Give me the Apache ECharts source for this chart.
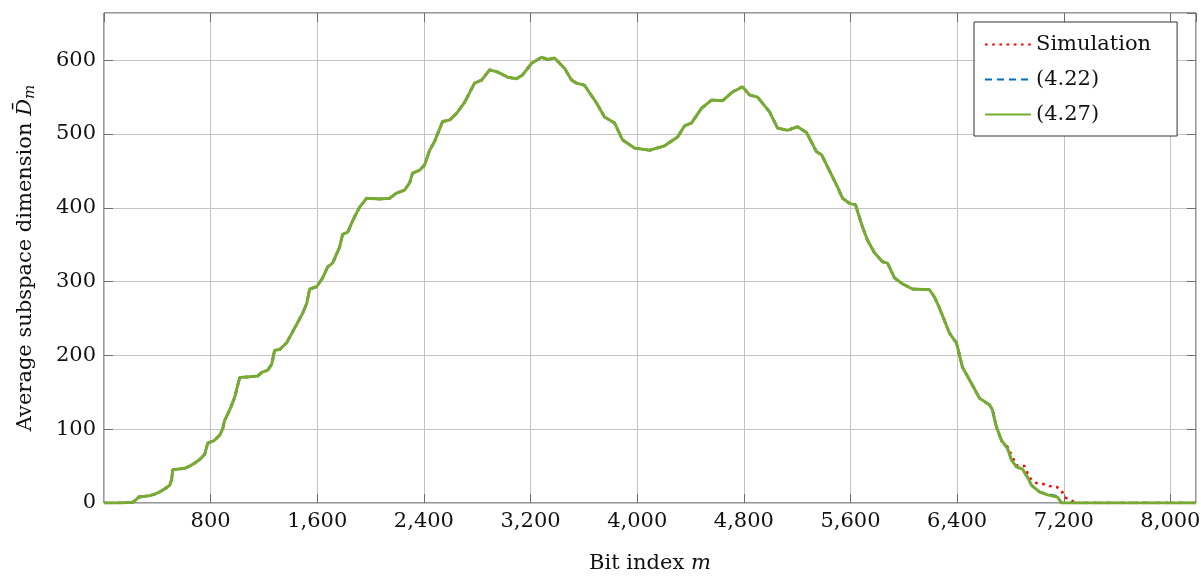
<!DOCTYPE html>
<html>
<head>
<meta charset="utf-8">
<script src="https://cdn.jsdelivr.net/npm/echarts@6/dist/echarts.min.js"></script>
<style>
  html, body { margin: 0; padding: 0; background: #fff; }
  #chart { width: 1201px; height: 577px; }
</style>
</head>
<body>
<div id="chart"></div>
<script>
// Bit index m for the analytical curves
const bitIndex = [0, 118, 215, 245, 260, 343, 380, 418, 455, 493, 508, 515, 605, 643, 680, 718, 755, 778, 830, 868,
  890, 905, 943, 980, 1018, 1093, 1153, 1183, 1228, 1258, 1280, 1318, 1370, 1430, 1490, 1520, 1543, 1595, 1640, 1678,
  1715, 1768, 1790, 1828, 1880, 1918, 1970, 2068, 2143, 2195, 2255, 2293, 2315, 2368, 2405, 2443, 2480, 2518, 2540, 2593,
  2645, 2705, 2780, 2833, 2893, 2953, 3028, 3095, 3140, 3208, 3283, 3328, 3380, 3455, 3508, 3545, 3605, 3695, 3755, 3830,
  3890, 3980, 4093, 4205, 4303, 4355, 4408, 4483, 4558, 4640, 4715, 4790, 4843, 4903, 4993, 5053, 5128, 5203, 5270, 5345,
  5383, 5443, 5503, 5540, 5593, 5638, 5690, 5728, 5780, 5840, 5878, 5930, 5990, 6065, 6193, 6230, 6268, 6343, 6395, 6440,
  6508, 6568, 6643, 6665, 6695, 6733, 6778, 6808, 6845, 6890, 6928, 6958, 7018, 7078, 7153, 7183, 8192];

// Average subspace dimension from (4.27)
const eq427 = [0, 0, 1, 5, 8, 10, 12, 15, 19, 24, 32, 45, 47, 50, 54, 59, 66, 81, 85, 92,
  100, 112, 126, 143, 170, 171, 172, 177, 180, 188, 207, 208, 217, 237, 257, 270, 290, 293, 305, 320,
  325, 347, 364, 367, 388, 401, 413, 412, 413, 420, 424, 434, 447, 451, 458, 478, 490, 507, 517, 519,
  528, 543, 569, 573, 587, 584, 577, 575, 580, 596, 604, 601, 603, 589, 573, 569, 566, 542, 523, 515,
  492, 481, 478, 484, 496, 511, 515, 535, 546, 545, 557, 564, 553, 550, 530, 508, 505, 510, 502, 476,
  472, 450, 428, 413, 406, 404, 374, 356, 339, 327, 325, 305, 297, 290, 289, 279, 264, 230, 217, 184,
  162, 142, 133, 126, 103, 85, 74, 58, 49, 46, 35, 24, 15, 11, 8, 0, 0];

// Average subspace dimension from (4.22)
const eq422 = [0, 0, 1, 5, 8, 10, 12, 15, 19, 24, 32, 45, 47, 50, 54, 59, 66, 81, 85, 92,
  100, 112, 126, 143, 170, 171, 172, 177, 180, 188, 207, 208, 217, 237, 257, 270, 290, 293, 305, 320,
  325, 347, 364, 367, 388, 401, 413, 412, 413, 420, 424, 434, 447, 451, 458, 478, 490, 507, 517, 519,
  528, 543, 569, 573, 587, 584, 577, 575, 580, 596, 604, 601, 603, 589, 573, 569, 566, 542, 523, 515,
  492, 481, 478, 484, 496, 511, 515, 535, 546, 545, 557, 564, 553, 550, 530, 508, 505, 510, 502, 476,
  472, 450, 428, 413, 406, 404, 374, 356, 339, 327, 325, 305, 297, 290, 289, 279, 264, 230, 217, 184,
  162, 142, 133, 126, 103, 85, 74, 58, 49, 46, 35, 24, 15, 12, 9, 0, 0];

// Simulated curve: bit index and measured average dimension
const simBitIndex = [0, 118, 215, 245, 260, 343, 380, 418, 455, 493, 508, 515, 605, 643, 680, 718, 755, 778, 830, 868,
  890, 905, 943, 980, 1018, 1093, 1153, 1183, 1228, 1258, 1280, 1318, 1370, 1430, 1490, 1520, 1543, 1595, 1640, 1678,
  1715, 1768, 1790, 1828, 1880, 1918, 1970, 2068, 2143, 2195, 2255, 2293, 2315, 2368, 2405, 2443, 2480, 2518, 2540, 2593,
  2645, 2705, 2780, 2833, 2893, 2953, 3028, 3095, 3140, 3208, 3283, 3328, 3380, 3455, 3508, 3545, 3605, 3695, 3755, 3830,
  3890, 3980, 4093, 4205, 4303, 4355, 4408, 4483, 4558, 4640, 4715, 4790, 4843, 4903, 4993, 5053, 5128, 5203, 5270, 5345,
  5383, 5443, 5503, 5540, 5593, 5638, 5690, 5728, 5780, 5840, 5878, 5930, 5990, 6065, 6193, 6230, 6268, 6343, 6395, 6440,
  6508, 6568, 6643, 6665, 6695, 6733, 6778, 6845, 6905, 6943, 6995, 7040, 7093, 7145, 7183, 7205, 7258, 7318, 8192];
const simulation = [0, 0, 1, 5, 8, 10, 12, 15, 19, 24, 32, 45, 47, 50, 54, 59, 66, 81, 85, 92,
  100, 112, 126, 143, 170, 171, 172, 177, 180, 188, 207, 208, 217, 237, 257, 270, 290, 293, 305, 320,
  325, 347, 364, 367, 388, 401, 413, 412, 413, 420, 424, 434, 447, 451, 458, 478, 490, 507, 517, 519,
  528, 543, 569, 573, 587, 584, 577, 575, 580, 596, 604, 601, 603, 589, 573, 569, 566, 542, 523, 515,
  492, 481, 478, 484, 496, 511, 515, 535, 546, 545, 557, 564, 553, 550, 530, 508, 505, 510, 502, 476,
  472, 450, 428, 413, 406, 404, 374, 356, 339, 327, 325, 305, 297, 290, 289, 279, 264, 230, 217, 184,
  162, 142, 133, 126, 103, 84, 76, 51, 50, 34, 27, 26, 23, 22, 17, 8, 3, 0, 0];

const seriesNames = ['Simulation', '(4.22)', '(4.27)'];

const xMin = 0, xMax = 8192, xStep = 800;
const yMin = 0, yMax = 664, yStep = 100;

const FONT = 'DejaVu Serif';
const TEXT = '#111';

function tickStyle() {
  return { show: true, inside: true, length: 9, lineStyle: { color: '#6e6e6e', width: 1 } };
}
function pairs(xs, ys) {
  return xs.map((x, i) => [x, ys[i]]);
}
function withCommas(v) {
  return String(v).replace(/\B(?=(\d{3})+(?!\d))/g, ',');
}

const chart = echarts.init(document.getElementById('chart'), null, { renderer: 'canvas' });

// mirrored axes: ticks only, on the top and right edges of the box
function mirrorAxis(extra) {
  return Object.assign({
    type: 'value',
    axisLine: { show: false, onZero: false },
    axisTick: tickStyle(),
    splitLine: { show: false },
    axisLabel: { show: false }
  }, extra);
}

chart.setOption({
  animation: false,
  backgroundColor: '#fff',
  textStyle: { fontFamily: FONT, color: TEXT },
  grid: {
    left: 104, right: 5, top: 13, bottom: 74,
    containLabel: false,
    outerBoundsMode: 'none',
    show: true, borderColor: '#333', borderWidth: 1, backgroundColor: 'transparent'
  },
  legend: {
    data: seriesNames,
    orient: 'vertical',
    left: 974, top: 22,
    padding: [12, 26, 11, 10],
    itemGap: 14,
    itemWidth: 46,
    itemHeight: 14,
    itemStyle: { opacity: 0 },
    borderColor: '#333',
    borderWidth: 1,
    borderRadius: 0,
    backgroundColor: '#fff',
    textStyle: { fontFamily: FONT, fontSize: 21, color: TEXT }
  },
  xAxis: [{
    type: 'value',
    min: xMin, max: xMax, interval: xStep,
    name: 'Bit index {it|m}',
    nameLocation: 'middle',
    nameGap: 50,
    nameTextStyle: {
      fontFamily: FONT, fontSize: 21, color: TEXT,
      rich: { it: { fontFamily: FONT, fontSize: 21, fontStyle: 'italic', color: TEXT } }
    },
    axisLine: { show: false, onZero: false },
    axisTick: tickStyle(),
    axisLabel: {
      showMinLabel: false, showMaxLabel: false,
      margin: 8, fontFamily: FONT, fontSize: 21, color: TEXT,
      formatter: withCommas
    },
    splitLine: { show: true, lineStyle: { color: '#c4c4c4', width: 1 } }
  }, mirrorAxis({ position: 'top', min: xMin, max: xMax, interval: xStep })],
  yAxis: [{
    type: 'value',
    min: yMin, max: yMax, interval: yStep,
    name: 'Average subspace dimension {it|D\u0304}{sub|m}',
    nameLocation: 'middle',
    nameGap: 66,
    nameTextStyle: {
      fontFamily: FONT, fontSize: 21, color: TEXT,
      rich: {
        it: { fontFamily: FONT, fontSize: 21, fontStyle: 'italic', color: TEXT },
        sub: { fontFamily: FONT, fontSize: 15, fontStyle: 'italic', color: TEXT, padding: [10, 0, 0, 0] }
      }
    },
    axisLine: { show: false, onZero: false },
    axisTick: tickStyle(),
    axisLabel: {
      showMaxLabel: false,
      margin: 8, fontFamily: FONT, fontSize: 21, color: TEXT
    },
    splitLine: { show: true, lineStyle: { color: '#c4c4c4', width: 1 } }
  }, mirrorAxis({ position: 'right', min: yMin, max: yMax, interval: yStep })],
  series: [
    {
      name: seriesNames[0],
      type: 'line',
      data: pairs(simBitIndex, simulation),
      showSymbol: false, symbol: 'none',
      color: '#ff0000',
      lineStyle: { color: '#ff0000', width: 2.6, type: [2.6, 4.6] },
      z: 2
    },
    {
      name: seriesNames[1],
      type: 'line',
      data: pairs(bitIndex, eq422),
      showSymbol: false, symbol: 'none',
      color: '#0072bd',
      lineStyle: { color: '#0072bd', width: 2.6, type: [7, 5] },
      z: 3
    },
    {
      name: seriesNames[2],
      type: 'line',
      data: pairs(bitIndex, eq427),
      showSymbol: false, symbol: 'none',
      color: '#77ac30',
      lineStyle: { color: '#77ac30', width: 3 },
      z: 4
    }
  ]
});
</script>
</body>
</html>
